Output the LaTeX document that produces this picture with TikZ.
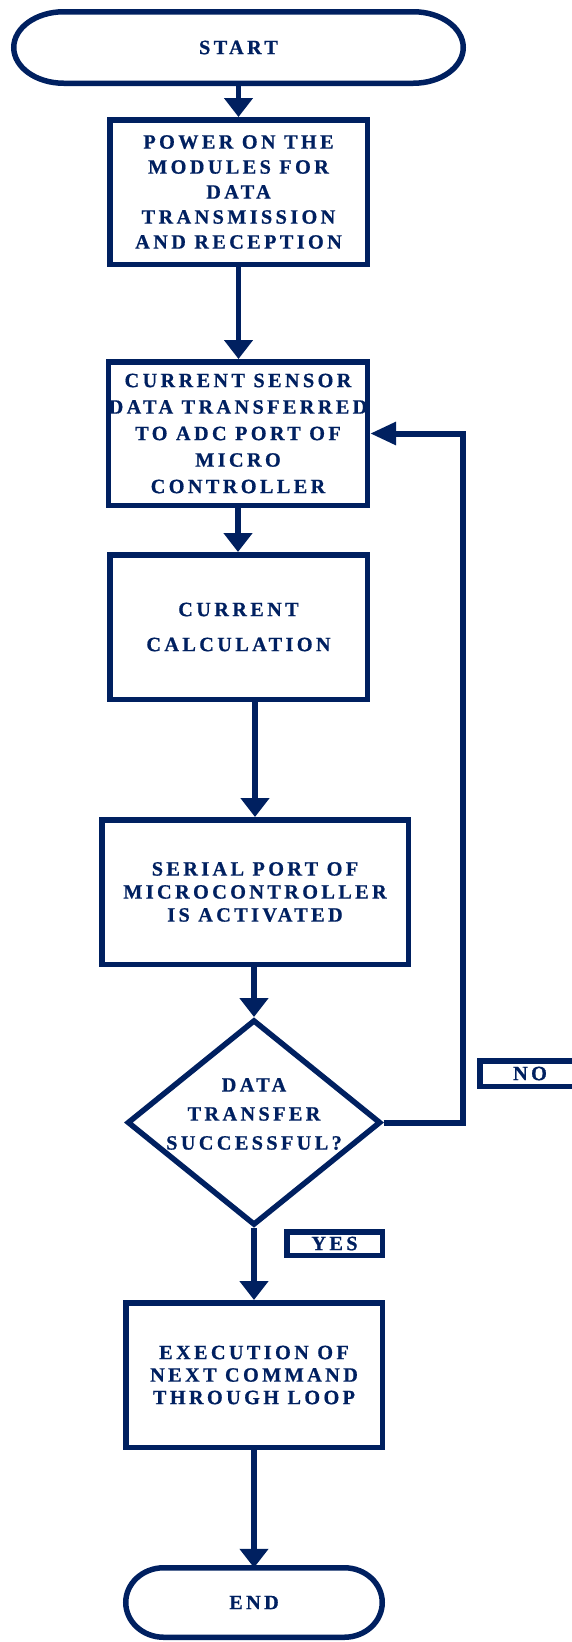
\documentclass[tikz,border=0pt]{standalone}
\usepackage{fontspec}
\setmainfont{Liberation Serif}[LetterSpace=16.5, BoldFeatures={FakeBold=0.7}]
\usetikzlibrary{arrows.meta,shapes.geometric}
\definecolor{navy}{HTML}{002060}
\newcommand{\bxfont}[1]{\fontsize{20.3pt}{#1pt}\selectfont\bfseries}
\begin{document}
\begin{tikzpicture}[x=1pt,y=-1pt,
  every node/.style={text=navy},
  proc/.style={draw=navy, line width=5.5pt, rectangle, inner sep=0pt, align=center},
  term/.style={rectangle, inner sep=0pt, outer sep=0pt, align=center},
  border/.style={draw=navy, line width=5.5pt},
  lbl/.style={draw=navy, line width=5.5pt, rectangle, inner sep=0pt, font=\bxfont{24}},
  arr/.style={draw=navy, line width=5.5pt, line join=miter, -{Triangle[length=19pt,width=28pt]}},
  backarr/.style={draw=navy, line width=6pt, line join=miter, -{Triangle[length=26pt,width=22pt]}}]
\useasboundingbox (0,0) rectangle (572,1642);
\clip (0,0) rectangle (572,1642);

% START terminal
\node[term, minimum width=449.5pt, minimum height=71.5pt, font=\bxfont{24}] (start) at (238.5,47.5) {START};
\draw[border] ([xshift=50pt]start.north west) -- ([xshift=-50pt]start.north east)
  arc[start angle=90, end angle=-90, x radius=50pt, y radius=35.75pt]
  -- ([xshift=50pt]start.south west)
  arc[start angle=270, end angle=90, x radius=50pt, y radius=35.75pt] -- cycle;

\node[proc, minimum width=257.5pt, minimum height=144.5pt, font=\bxfont{25}] (power) at (238.5,192)
  {POWER ON THE\\MODULES FOR\\DATA\\TRANSMISSION\\AND RECEPTION};

\node[proc, minimum width=256.5pt, minimum height=143.5pt, font=\bxfont{26.5}] (sensor) at (238,433.5)
  {CURRENT SENSOR\\DATA TRANSFERRED\\TO ADC PORT OF\\MICRO\\CONTROLLER};

\node[proc, minimum width=257.5pt, minimum height=144.5pt, font=\bxfont{35}] (calc) at (238.5,627)
  {CURRENT\\CALCULATION};

\node[proc, minimum width=306.5pt, minimum height=144.5pt, font=\bxfont{23}] (serial) at (255,892)
  {SERIAL PORT OF\\MICROCONTROLLER\\IS ACTIVATED};

\node[draw=navy, line width=5.5pt, diamond, inner sep=0pt, minimum width=253.5pt, minimum height=205.5pt] (dec) at (254,1122.5) {};
\node[align=center, font=\bxfont{29}] (dtext) at (254,1114) {DATA\\TRANSFER\\SUCCESSFUL?};

\node[proc, minimum width=256.5pt, minimum height=144.5pt, font=\bxfont{22.5}] (exec) at (254,1375)
  {EXECUTION OF\\NEXT COMMAND\\THROUGH LOOP};

% END terminal
\node[term, minimum width=256.5pt, minimum height=69.5pt, font=\bxfont{24}] (end) at (254,1602.5) {END};
\draw[border] ([xshift=38pt]end.north west) -- ([xshift=-38pt]end.north east)
  arc[start angle=90, end angle=-90, x radius=38pt, y radius=34.75pt]
  -- ([xshift=38pt]end.south west)
  arc[start angle=270, end angle=90, x radius=38pt, y radius=34.75pt] -- cycle;

% labels
\node[lbl, minimum width=100.5pt, minimum height=25.5pt] (no) at (530,1073.5) {NO};
\node[lbl, minimum width=95.5pt, minimum height=23.5pt] (yes) at (334.5,1243.5) {YES};

% connectors
\draw[arr] (start) -- (power);
\draw[arr] (power.south) -- (power.south |- sensor.north);
\draw[arr] (sensor.south) -- (sensor.south |- calc.north);
\draw[arr] (serial.north |- calc.south) -- (serial.north);
\draw[arr] (dec.north |- serial.south) -- (dec.north);
\draw[arr] (dec.south) -- (dec.south |- exec.north);
\draw[arr] (exec.south) -- (exec.south |- end.north);
\coordinate (fb) at (463,1122.5);
\draw[backarr] (dec.east) -- (fb) |- (sensor.east);
\end{tikzpicture}
\end{document}
